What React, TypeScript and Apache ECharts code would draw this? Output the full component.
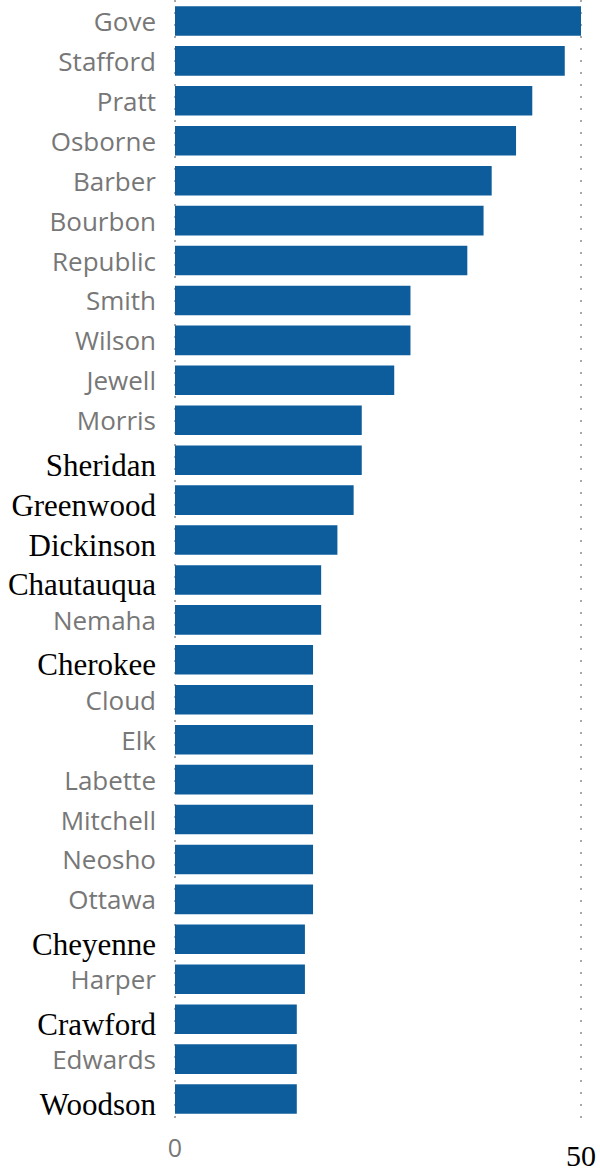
import React, { useEffect, useRef } from "react";
import * as echarts from "echarts";

const counties: string[] = [
  "Gove", "Stafford", "Pratt", "Osborne", "Barber", "Bourbon", "Republic",
  "Smith", "Wilson", "Jewell", "Morris", "Sheridan", "Greenwood", "Dickinson",
  "Chautauqua", "Nemaha", "Cherokee", "Cloud", "Elk", "Labette", "Mitchell",
  "Neosho", "Ottawa", "Cheyenne", "Harper", "Crawford", "Edwards", "Woodson",
];
const values: number[] = [
  50, 48, 44, 42, 39, 38, 36,
  29, 29, 27, 23, 23, 22, 20,
  18, 18, 17, 17, 17, 17, 17,
  17, 17, 16, 16, 15, 15, 15,
];
const serifLabels: string[] = [
  "Sheridan", "Greenwood", "Dickinson", "Chautauqua", "Cherokee",
  "Cheyenne", "Crawford", "Woodson",
];
const xTicks: number[] = [0, 50];
const serifTicks: number[] = [50];

export default function App() {
  const ref = useRef<HTMLDivElement>(null);
  useEffect(() => {
    if (!ref.current) return;
    const chart = echarts.init(ref.current, undefined, { renderer: "svg" });
    const serifFont = "'Liberation Serif', 'Times New Roman', serif";
    const sansFont = "'Open Sans', 'Noto Sans', sans-serif";
    chart.setOption({
      animation: false,
      backgroundColor: "#ffffff",
      grid: [
        { left: 175, right: 19, top: 1, bottom: 51 },
        { left: 175, right: 19, top: 0, height: 1130 },
      ],
      xAxis: [
        {
          type: "value",
          gridIndex: 0,
          min: xTicks[0],
          max: xTicks[xTicks.length - 1],
          show: false,
        },
        {
          type: "value",
          gridIndex: 1,
          min: xTicks[0],
          max: xTicks[xTicks.length - 1],
          interval: xTicks[1] - xTicks[0],
          axisLine: { show: false },
          axisTick: { show: false },
          splitLine: {
            show: true,
            lineStyle: { color: "#a8a8a8", width: 2, type: [2, 10] },
          },
          axisLabel: {
            margin: 7,
            showMinLabel: true,
            showMaxLabel: true,
            formatter: (v: number) =>
              serifTicks.includes(v) ? `{s|${v}}` : `{g|${v}}`,
            rich: {
              g: { fontFamily: sansFont, fontSize: 25, color: "#777777" },
              s: {
                fontFamily: serifFont,
                fontSize: 30,
                color: "#000000",
                padding: [6, 0, 0, 0],
              },
            },
          },
        },
      ],
      yAxis: [
        {
          type: "category",
          gridIndex: 0,
          data: counties,
          inverse: true,
          axisLine: { show: false },
          axisTick: { show: false },
          splitLine: { show: false },
          axisLabel: {
            margin: 19,
            interval: 0,
            formatter: (v: string) =>
              serifLabels.includes(v) ? `{s|${v}}` : `{g|${v}}`,
            rich: {
              g: { fontFamily: sansFont, fontSize: 26, color: "#777777" },
              s: {
                fontFamily: serifFont,
                fontSize: 31,
                color: "#000000",
                padding: [10, 0, 0, 0],
              },
            },
          },
        },
        { type: "value", gridIndex: 1, show: false, min: 0, max: 1 },
      ],
      series: [
        {
          type: "bar",
          xAxisIndex: 0,
          yAxisIndex: 0,
          data: values,
          barWidth: "74%",
          itemStyle: { color: "#0d5c9c" },
        },
      ],
    });
    return () => chart.dispose();
  }, []);
  return (
    <div
      ref={ref}
      style={{ position: "absolute", left: 0, top: 0, width: 600, height: 1170, background: "#fff" }}
    />
  );
}
